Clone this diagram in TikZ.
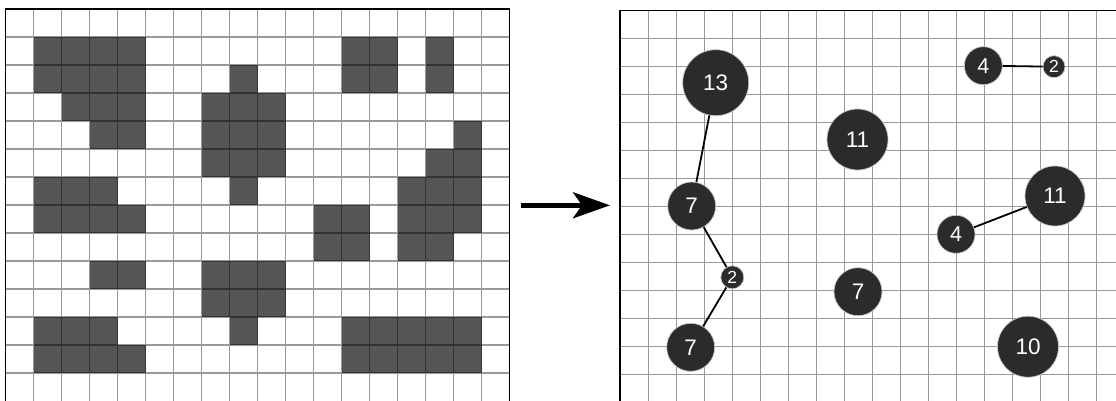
\documentclass[tikz,border=0pt]{standalone}
\usepackage{fontspec}
\newfontfamily\digitfont{Liberation Sans}
\usetikzlibrary{arrows.meta}
\definecolor{cellfill}{HTML}{565656}
\definecolor{blobfill}{HTML}{2B2B2B}
\begin{document}
\begin{tikzpicture}[x=1pt,y=-1pt,
  gridline/.style={black,opacity=0.4,line width=1.4pt},
  frameline/.style={black,line width=1.8pt,line cap=rect},
  blob/.style={circle,fill=blobfill,draw=gray!45,line width=0.7pt,text=white,inner sep=0pt,
    font=\digitfont\fontsize{22.5}{22.5}\selectfont},
  smallblob/.style={blob,font=\digitfont\fontsize{17.5}{17.5}\selectfont},
  midblob/.style={blob,font=\digitfont\fontsize{21.5}{21.5}\selectfont},
  link/.style={black,line width=1.8pt},
  bigarrow/.style={black,line width=4.5pt,-{Stealth[length=37pt,width=26pt,inset=9pt]}}]
\useasboundingbox (0,0) rectangle (1116,401);
\fill[white] (0,0) rectangle (1116,401);
% ---- left grid: filled cells ----
\foreach \r/\cl in {1/{1,2,3,4,12,13,15},2/{1,2,3,4,8,12,13,15},3/{2,3,4,7,8,9},
  4/{3,4,7,8,9,16},5/{7,8,9,15,16},6/{1,2,3,8,14,15,16},7/{1,2,3,4,11,12,14,15,16},
  8/{11,12,14,15},9/{3,4,7,8,9},10/{7,8,9},11/{1,2,3,8,12,13,14,15,16},
  12/{1,2,3,4,12,13,14,15,16}}{
  \foreach \c in \cl {
    \fill[cellfill] ({5.5+28*\c},{9+28*\r}) rectangle ++(28,28);
  }
}
% ---- left grid lines ----
\draw[gridline]
  foreach \i in {1,...,17} {({5.5+28*\i},9) -- ({5.5+28*\i},401)}
  foreach \j in {1,...,13} {(5.5,{9+28*\j}) -- (509.5,{9+28*\j})};
\draw[frameline] (5.5,401) -- (5.5,9) -- (509.5,9) -- (509.5,401);
% ---- right grid lines ----
\draw[gridline]
  foreach \i in {1,...,17} {({620.3+28*\i},10.5) -- ({620.3+28*\i},401)}
  foreach \j in {1,...,14} {(620.3,{10.5+28*\j}) -- (1116,{10.5+28*\j})};
\draw[frameline] (620.3,401) -- (620.3,10.5) -- (1116,10.5);
% ---- arrow ----
\coordinate (a1) at (520.7,205.3);
\coordinate (a2) at (610,205.3);
\draw[bigarrow] (a1) -- (a2);
% ---- blobs ----
\node[blob,minimum size=66pt] (n13) at (715.7,82.7) {13};
\node[blob,minimum size=48pt] (n7a) at (691.7,206) {7};
\node[smallblob,minimum size=23pt] (n2a) at (732.3,277.3) {2};
\node[blob,minimum size=48pt] (n7b) at (690.7,347.3) {7};
\node[blob,minimum size=61pt] (n11a) at (857.5,139.5) {11};
\node[midblob,minimum size=38pt] (n4a) at (983.3,65.7) {4};
\node[smallblob,minimum size=22pt] (n2b) at (1054,66.7) {2};
\node[blob,minimum size=60pt] (n11b) at (1055,196) {11};
\node[midblob,minimum size=38pt] (n4b) at (956,234.3) {4};
\node[blob,minimum size=48pt] (n7c) at (858,291.7) {7};
\node[blob,minimum size=61pt] (n10) at (1028,346.7) {10};
% ---- links ----
\draw[link] (n13) -- (n7a);
\draw[link] (n7a) -- (n2a);
\draw[link] (n2a) -- (n7b);
\draw[link] (n4a) -- (n2b);
\draw[link] (n4b) -- (n11b);
\end{tikzpicture}
\end{document}
